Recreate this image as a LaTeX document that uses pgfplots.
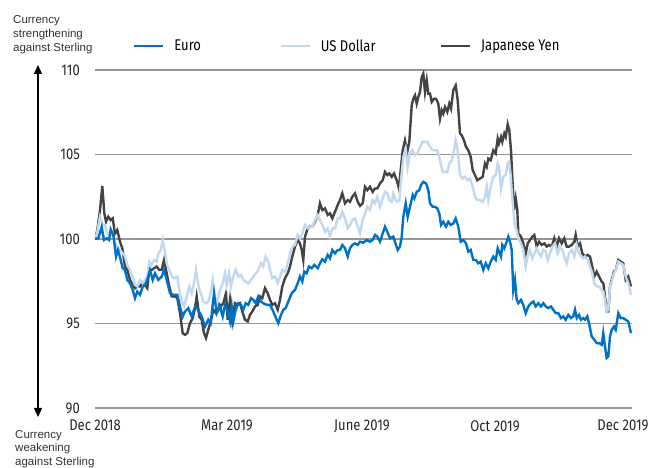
\documentclass[border=0pt]{standalone}
\usepackage{fontspec}
\setmainfont{Liberation Sans}
\newfontfamily\condfont{Fira Sans}[FakeStretch=0.84]
\usepackage{pgfplots}
\usepackage{pgfplotstable}
\pgfplotsset{compat=1.18}
\usetikzlibrary{arrows.meta}

\definecolor{euro}{RGB}{0,114,198}
\definecolor{usd}{RGB}{194,216,238}
\definecolor{jpy}{RGB}{68,68,68}
\definecolor{gridc}{RGB}{150,150,150}

\pgfplotstableread{
x y
95 100.00
98.3 100.04
101.7 100.71
104 99.94
106.7 100.04
109 99.94
110.7 100.57
113.3 100.24
116 98.96
118 99.35
120.7 98.76
122.7 98.27
125 98.17
127.3 97.58
130 97.38
132.7 96.99
135 96.50
137.3 96.89
140 96.70
142.7 97.18
145 97.28
147.3 97.58
150 98.17
152.7 97.58
155 97.97
158.3 97.58
161.7 97.77
164 98.17
166.7 97.58
170 96.79
173.3 96.70
177.3 96.70
180 96.00
182.7 95.41
185 95.71
188.3 95.90
191.7 95.41
195 96.00
198.3 95.81
201.7 95.41
205 94.82
208.3 95.22
210.7 95.02
214 96.79
216.7 95.61
220 96.00
222.7 95.41
225 96.10
227.7 95.71
230 95.12
231.7 96.01
233.3 95.12
235.7 95.81
238.3 96.20
241 96.10
243.3 95.81
245.7 96.20
248.3 96.10
251 96.50
253.3 96.40
255.7 96.20
258.3 96.60
261 96.30
263.3 96.20
266.7 96.10
270 96.10
273.3 95.71
276.7 95.22
278.3 95.02
281 95.51
283.3 95.81
285.7 95.91
288.3 96.30
291.7 96.79
295 96.99
297.7 97.38
300 97.78
302.3 97.48
304.3 98.07
306.7 97.97
309 98.37
311.7 98.27
314.3 98.47
317.7 98.27
320 98.56
322.3 98.80
325 98.66
327.7 99.06
330 98.86
332.3 99.35
335 99.15
337.7 99.35
340 99.35
342.3 99.65
345 99.45
347.7 98.96
350 99.45
352.3 99.65
355 99.74
357.7 99.65
360 99.84
363.3 99.78
366.7 99.94
370 99.84
372.7 99.94
375 100.24
377.3 100.14
380 99.84
382.7 100.33
385 100.73
387.3 100.43
390 100.04
393.3 100.14
396 99.65
397.7 99.35
400 99.55
401.7 100.14
403.3 101.32
405.7 102.11
407.7 101.32
410 101.91
412.7 102.60
414.3 102.40
416.7 102.79
419.3 102.89
421 103.19
423.3 103.38
426 103.29
428.3 102.89
430 102.11
432.7 101.91
435 101.91
437.3 101.81
439.3 101.52
441 100.83
443.3 101.02
446 100.73
448.3 101.02
450.7 100.83
453.3 100.92
455.7 101.22
458.3 100.73
460.7 99.84
463.3 99.94
466 99.74
468.3 99.25
470.7 99.35
473.3 98.76
476 98.76
478.3 98.56
480.7 98.66
483.3 98.17
485.7 98.56
488.3 98.27
490.7 98.66
493.3 98.96
495.7 98.76
497.7 99.45
501 98.96
502.3 99.65
504.3 99.45
506.7 99.84
508.3 100.14
510 99.84
511.7 99.35
513.3 96.99
515 97.58
516.7 96.40
518.3 96.20
521 96.40
523.3 96.10
525.7 95.61
528.3 96.01
531 96.20
533.3 96.30
535.7 96.01
538.3 96.20
541 96.01
543.3 96.20
545.7 96.01
548.3 95.91
551 96.01
553.3 95.81
555.7 95.61
558.3 95.61
561 95.32
563.3 95.42
565.7 95.22
568.3 95.51
571 95.32
573.3 95.42
575 95.81
576.7 95.32
579 95.51
581 95.22
583.3 95.32
585 95.22
587.3 95.42
589 95.02
591.7 94.23
594.3 94.04
596.7 93.84
599 93.84
601.7 93.74
603.3 94.43
605 93.64
606.7 92.96
608.3 93.05
610 94.23
611.7 94.63
614 94.82
615.7 94.63
618.3 95.61
620.7 95.32
623.3 95.32
625.7 95.22
628.3 95.12
631 94.43
}\eurotable

\pgfplotstableread{
x y
95 100.00
97.3 100.43
100 101.32
102.7 100.83
105 100.83
107.3 100.33
110 100.24
112.7 100.14
115 99.84
117.3 99.45
120 99.35
122.7 99.15
125 98.96
127.3 98.47
130 98.17
132.7 97.78
135 97.28
137.3 97.19
140 97.58
142.7 97.38
145 97.58
147.3 97.78
149.3 98.66
151.7 98.47
154 98.76
156.7 98.66
158.3 99.15
160.7 99.35
162.7 99.94
165 99.25
166.7 98.56
169.3 98.17
171.7 97.78
175 97.68
177.3 97.78
179.3 96.99
181.7 96.30
184 96.01
186.7 96.60
189.3 97.19
191.7 96.79
194 97.38
196 98.17
198.3 97.28
200.7 96.79
203.3 96.30
206 96.20
208.3 96.30
210.7 96.79
212.7 97.58
215 96.60
217.3 96.20
220 96.99
222.7 97.38
225 97.97
226.7 97.28
229 97.97
231 97.19
233.3 97.78
235.7 98.17
238.3 97.78
241 97.87
243.3 97.58
245.7 97.48
248.3 97.38
251 97.58
253.3 97.78
255.7 97.97
258.3 98.17
261 98.56
263.3 98.37
265.7 98.96
268.3 98.66
270 98.17
272.3 97.68
275 97.78
277.7 97.38
280 97.78
282.3 98.17
285 98.07
287.7 98.56
290 99.15
292.3 99.55
295 99.65
297.7 100.24
300 100.04
302.3 100.33
305 100.83
307.7 100.63
310 100.73
312.3 100.73
315 101.12
317.7 101.42
320 101.12
322.3 100.83
325 100.43
327.7 100.63
330 100.14
332.3 100.63
335 100.63
337.7 101.22
340 101.22
342.3 101.61
345 101.22
347.7 100.63
350 100.83
352.3 101.12
355 101.22
357.7 100.73
360 100.34
362.7 101.12
365 101.52
367.3 101.91
370 101.71
372.7 102.30
375 102.11
377.3 102.50
380 101.91
382.7 102.40
385 102.79
387.3 102.70
389.3 102.30
391.7 102.20
393.3 102.70
395.7 102.30
397.7 102.20
399.3 102.30
400.7 103.29
403.3 104.86
405.7 105.35
407.7 104.27
410 105.06
412.3 105.25
415 104.96
417.3 105.06
420 105.45
422.7 105.75
425 105.75
427.3 105.75
430 105.45
432.7 105.25
435 105.25
437.3 105.25
440 104.66
442.7 103.97
445 103.97
447.3 103.97
449.3 104.47
451.7 104.66
454 105.25
455.7 105.84
457.7 105.25
460 103.78
462.7 103.58
465 103.68
467.3 103.48
470 103.58
472.7 103.09
475 102.50
477.3 102.30
480 102.30
482.7 102.20
485 102.50
486.7 103.09
488.3 102.30
490.7 103.09
493.3 103.68
495.7 103.78
497.7 104.47
499 104.27
501 102.99
503.3 103.68
505.7 103.78
507.7 104.47
509 104.56
510.7 103.78
511.7 102.89
513.3 101.71
515 100.73
516.7 100.53
518.3 100.04
521 99.74
523.3 99.35
525.7 98.37
527.7 98.96
530 99.35
532.3 98.86
534.3 99.15
536.7 99.45
539 99.15
541 98.96
543.3 99.35
545.7 99.25
547.7 98.76
550 99.15
552.3 99.55
555 99.74
557.7 99.15
560 99.55
562.3 99.35
564.3 98.96
566.7 98.56
569 99.15
571.7 99.35
574.3 98.96
576.7 99.65
579 99.15
581 98.96
583.3 98.86
585 98.96
587.7 98.76
590 98.37
592.3 97.97
594.3 97.38
596.7 97.19
599 97.19
601.7 96.99
603.3 96.89
605 96.40
606.7 95.71
608.3 95.81
610 97.19
611.7 97.48
614 97.97
615.7 98.17
618.3 98.66
620.7 98.56
623.3 98.47
625.7 97.78
628.3 97.38
631 96.69
}\usdtable

\pgfplotstableread{
x y
95 100.00
97.3 100.53
100 101.71
102.3 103.13
104.3 101.52
106 101.02
108.3 101.32
110.7 101.12
112.7 101.22
115 100.33
117.3 100.53
120 99.84
122.3 99.45
125 98.37
127.3 98.17
130 97.58
132.7 97.28
135 97.09
137.3 97.19
140 97.19
142.3 97.38
145 97.28
147.3 97.09
149.3 98.17
151.7 98.17
154 98.27
156.7 98.37
159.3 98.17
161.7 98.17
164 98.76
166.7 97.97
169.3 97.19
171.7 96.60
175 96.60
177.3 96.50
180 95.61
182.7 94.43
185 94.33
187.3 94.43
190 95.02
192.7 95.32
195 95.91
196.7 96.60
199.3 95.41
201.7 95.22
204 94.43
206 94.14
208.3 94.63
210.7 95.12
213.3 95.81
216 95.61
218.3 96.20
220.7 96.01
223.3 96.20
226 96.79
227.7 95.22
230 96.40
232.3 95.12
235 96.20
237.7 96.10
240 96.20
242.3 95.71
245 95.22
247.7 95.12
250 95.51
252.3 95.71
255 96.01
257.7 96.10
260 96.60
262.3 96.50
265 97.09
267.7 96.79
270 96.40
272.3 96.10
275 96.20
277.7 95.81
280 96.40
282.3 97.19
285 97.68
287.7 97.97
290 98.37
292.3 98.96
295 99.55
297.7 99.94
300 99.74
301.7 99.35
303.3 98.76
305 100.14
307.7 100.63
310 100.73
312.3 100.73
315 101.02
317.7 101.42
320 102.11
322.3 101.71
325 101.81
327.7 101.42
330 101.52
332.3 101.22
335 101.61
337.7 102.01
340 102.30
342.3 102.70
345 102.11
347.7 102.30
350 102.20
352.3 102.50
355 102.70
357.7 102.20
360 101.96
362.7 102.11
365 103.09
367.3 102.89
370 103.09
372.7 102.79
375 102.99
377.3 102.99
380 103.29
382.7 103.48
385 103.97
387.3 103.78
389.3 103.88
391.7 103.68
394 103.88
396.7 103.48
399 102.99
400.7 104.07
402.7 105.25
405 105.84
407.3 105.16
409.3 105.75
411.7 107.91
413.3 108.30
415 108.50
416.7 108.01
418.3 108.40
420 108.70
421.7 109.58
423.3 109.78
425 108.70
426.7 109.39
428.3 108.60
430 108.60
431.7 108.11
434 108.30
436 108.30
438.3 108.01
440 107.12
441.7 107.62
443.3 107.42
445 107.81
447.3 107.52
449.3 108.01
451 107.71
453.3 108.80
455.7 109.09
457.7 108.21
460 106.24
461.7 106.14
464 105.84
466 105.45
468.3 105.25
470.7 104.86
472.7 104.07
475 103.78
477.3 103.48
480 103.58
482.7 103.68
485 104.47
486.7 104.27
488.3 104.76
490.7 104.66
493.3 105.25
495.7 105.06
497.7 105.94
499 105.65
501 106.04
502.3 105.75
504.3 106.24
505.7 106.04
507.7 106.79
509.3 106.43
511 105.25
512.3 103.68
514 101.71
515.7 102.40
517.3 101.71
518.3 100.33
521 100.14
523.3 99.74
525.7 99.15
527.7 99.74
530 99.94
532.3 100.14
534.3 100.24
536.7 99.55
539 99.84
541.7 99.65
544.3 99.74
546.7 99.55
549 99.65
551.7 99.55
554.3 100.04
556.7 99.55
559 100.04
561.7 99.74
564.3 100.04
566.7 99.55
569 99.55
571.7 99.65
574.3 99.84
575.7 100.24
577.7 99.55
580 99.74
582.3 99.15
585 98.96
587.7 99.06
590 98.96
592.3 98.37
594.3 97.78
596.7 98.07
599 97.78
601.7 97.48
603.3 97.38
605 96.60
606.7 95.71
608.3 95.71
610 97.19
611.7 97.58
614 98.07
615.7 98.17
618.3 98.76
620.7 98.66
623.3 98.56
625.7 97.58
628.3 97.78
631 97.19
}\jpytable

\begin{document}
\begin{tikzpicture}
\useasboundingbox (-95pt,-60pt) rectangle (561pt,408pt);
\begin{axis}[
  scale only axis, width=537pt, height=338pt,
  xmin=95, xmax=632, ymin=90, ymax=110,
  xtick={95,227,362,495,623},
  xticklabels={Dec 2018, Mar 2019, June 2019, Oct 2019, Dec 2019},
  ytick={90,95,100,105,110},
  ymajorgrids, grid style={gridc, line width=1.3pt},
  axis line style={draw=none}, major tick length=0pt,
  /pgf/number format/assume math mode=true,
  tick label style={font=\condfont\fontsize{15.5}{18}\selectfont, text=black!85},
  xticklabel style={anchor=north, inner sep=0pt, yshift=-12pt},
  yticklabel style={anchor=east, inner sep=0pt, xshift=-15pt},
  legend columns=3,
  legend style={draw=none, fill=none, at={(axis description cs:0.0708,1.071)}, anchor=west,
    font=\condfont\fontsize{15.5}{18}\selectfont, inner sep=0pt, outer sep=0pt,
    nodes={inner sep=0pt}, column sep=0pt,
    /tikz/every odd column/.append style={column sep=10pt}},
  legend image code/.code={\draw[#1] (0pt,0pt) -- (29pt,0pt);},
]
\addlegendimage{euro, line width=2.4pt}
\addlegendentry{\makebox[105pt][l]{Euro}}
\addlegendimage{usd, line width=2.4pt}
\addlegendentry{\makebox[119pt][l]{US Dollar}}
\addlegendimage{jpy, line width=2.4pt}
\addlegendentry{Japanese Yen}
\addplot[jpy, line width=2.4pt, forget plot] table[x=x,y=y] {\jpytable};
\addplot[usd, line width=2.4pt, forget plot] table[x=x,y=y] {\usdtable};
\addplot[euro, line width=2.4pt, forget plot] table[x=x,y=y] {\eurotable};
\end{axis}
\draw[line width=1.3pt, {Triangle[width=8pt,length=9pt]}-{Triangle[width=8pt,length=9pt]}] (-57pt,-9pt) -- (-57pt,343pt);
\node[anchor=north west, inner sep=0pt, align=left, font=\fontsize{11.5}{14}\selectfont, text=black!80] at (-82pt,393pt) {Currency\\strengthening\\against Sterling};
\node[anchor=north west, inner sep=0pt, align=left, font=\fontsize{11.5}{13.5}\selectfont, text=black!80] at (-80pt,-22pt) {Currency\\weakening\\against Sterling};
\end{tikzpicture}
\end{document}
